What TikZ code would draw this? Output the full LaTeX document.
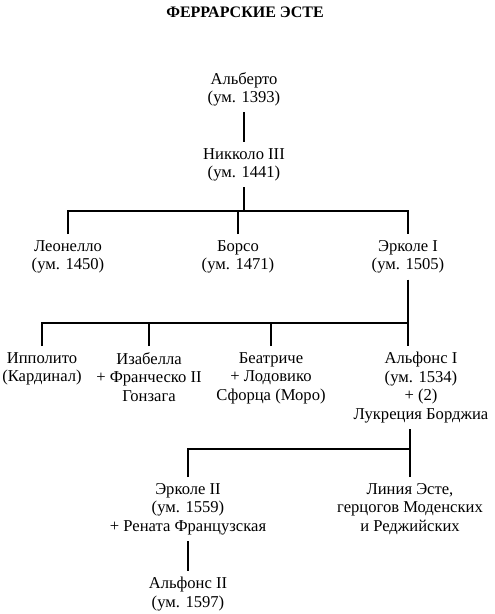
\documentclass[tikz,border=0pt]{standalone}
\usepackage{fontspec}
\setmainfont{Liberation Serif}
\begin{document}
\begin{tikzpicture}
		[x=1pt,y=-1pt,
		person/.style={align=center,anchor=north,inner xsep=2pt,inner ysep=6pt,
font=\fontsize{16.6}{18.6}\selectfont},
		heading/.style={anchor=north,inner sep=0pt,font=\fontsize{16}{18}\selectfont\bfseries},
		link/.style={-,line width=1.6pt}]
		\useasboundingbox (0,0) rectangle (495,614);
		\node at (245,7) (title) [heading] {ФЕРРАРСКИЕ ЭСТЕ};
		% first generations
		\node at (244,66) (alberto) [person] {Альберто\\(ум. 1393)};
		\node at (244,142) (niccolo) [person] {Никколо III\\(ум. 1441)};
		\node at (68,234) (leonello) [person] {Леонелло\\(ум. 1450)};
		\node at (238,234) (borso) [person] {Борсо\\(ум. 1471)};
		\node at (408,234) (ercole1) [person] {Эрколе I\\(ум. 1505)};
		% children of Ercole I
		\node at (42,346) (ippolito) [person] {Ипполито\\(Кардинал)};
		\node at (149,346) (isabella) [person] {Изабелла\\+ Франческо II\\Гонзага};
		\node at (271,346) (beatrice) [person] {Беатриче\\+ Лодовико\\Сфорца (Моро)};
		\node at (421,346) (alfonso1) [person] {Альфонс I\\(ум. 1534)\\+ (2)\\Лукреция Борджиа};
		% later lines
		\node at (188,477) (ercole2) [person] {Эрколе II\\(ум. 1559)\\+ Рената Французская};
		\node at (410,477) (modena) [person] {Линия Эсте,\\герцогов Моденских\\и Реджийских};
		\node at (188,571) (alfonso2) [person] {Альфонс II\\(ум. 1597)};
		\coordinate (bar1) at (244,211);
		\coordinate (bar2) at (408,323);
		\coordinate (bar3) at (410,449);
		\draw[link] (alberto) -- (niccolo);
		\draw[link] (niccolo.south) -- (niccolo.south |- bar1);
		\draw[link] (leonello.north) |- (bar1) -| (ercole1.north);
		\draw[link] (borso.north) -- (borso.north |- bar1);
		\draw[link] (ercole1.south) -- (ercole1.south |- alfonso1.north);
		\draw[link] (ippolito.north) |- (bar2);
		\draw[link] (isabella.north) -- (isabella.north |- bar2);
		\draw[link] (beatrice.north) -- (beatrice.north |- bar2);
		\draw[link] (modena.north) -- (modena.north |- alfonso1.south);
		\draw[link] (ercole2.north) |- (bar3);
		\draw[link] (ercole2) -- (alfonso2);
	\end{tikzpicture}
\end{document}
